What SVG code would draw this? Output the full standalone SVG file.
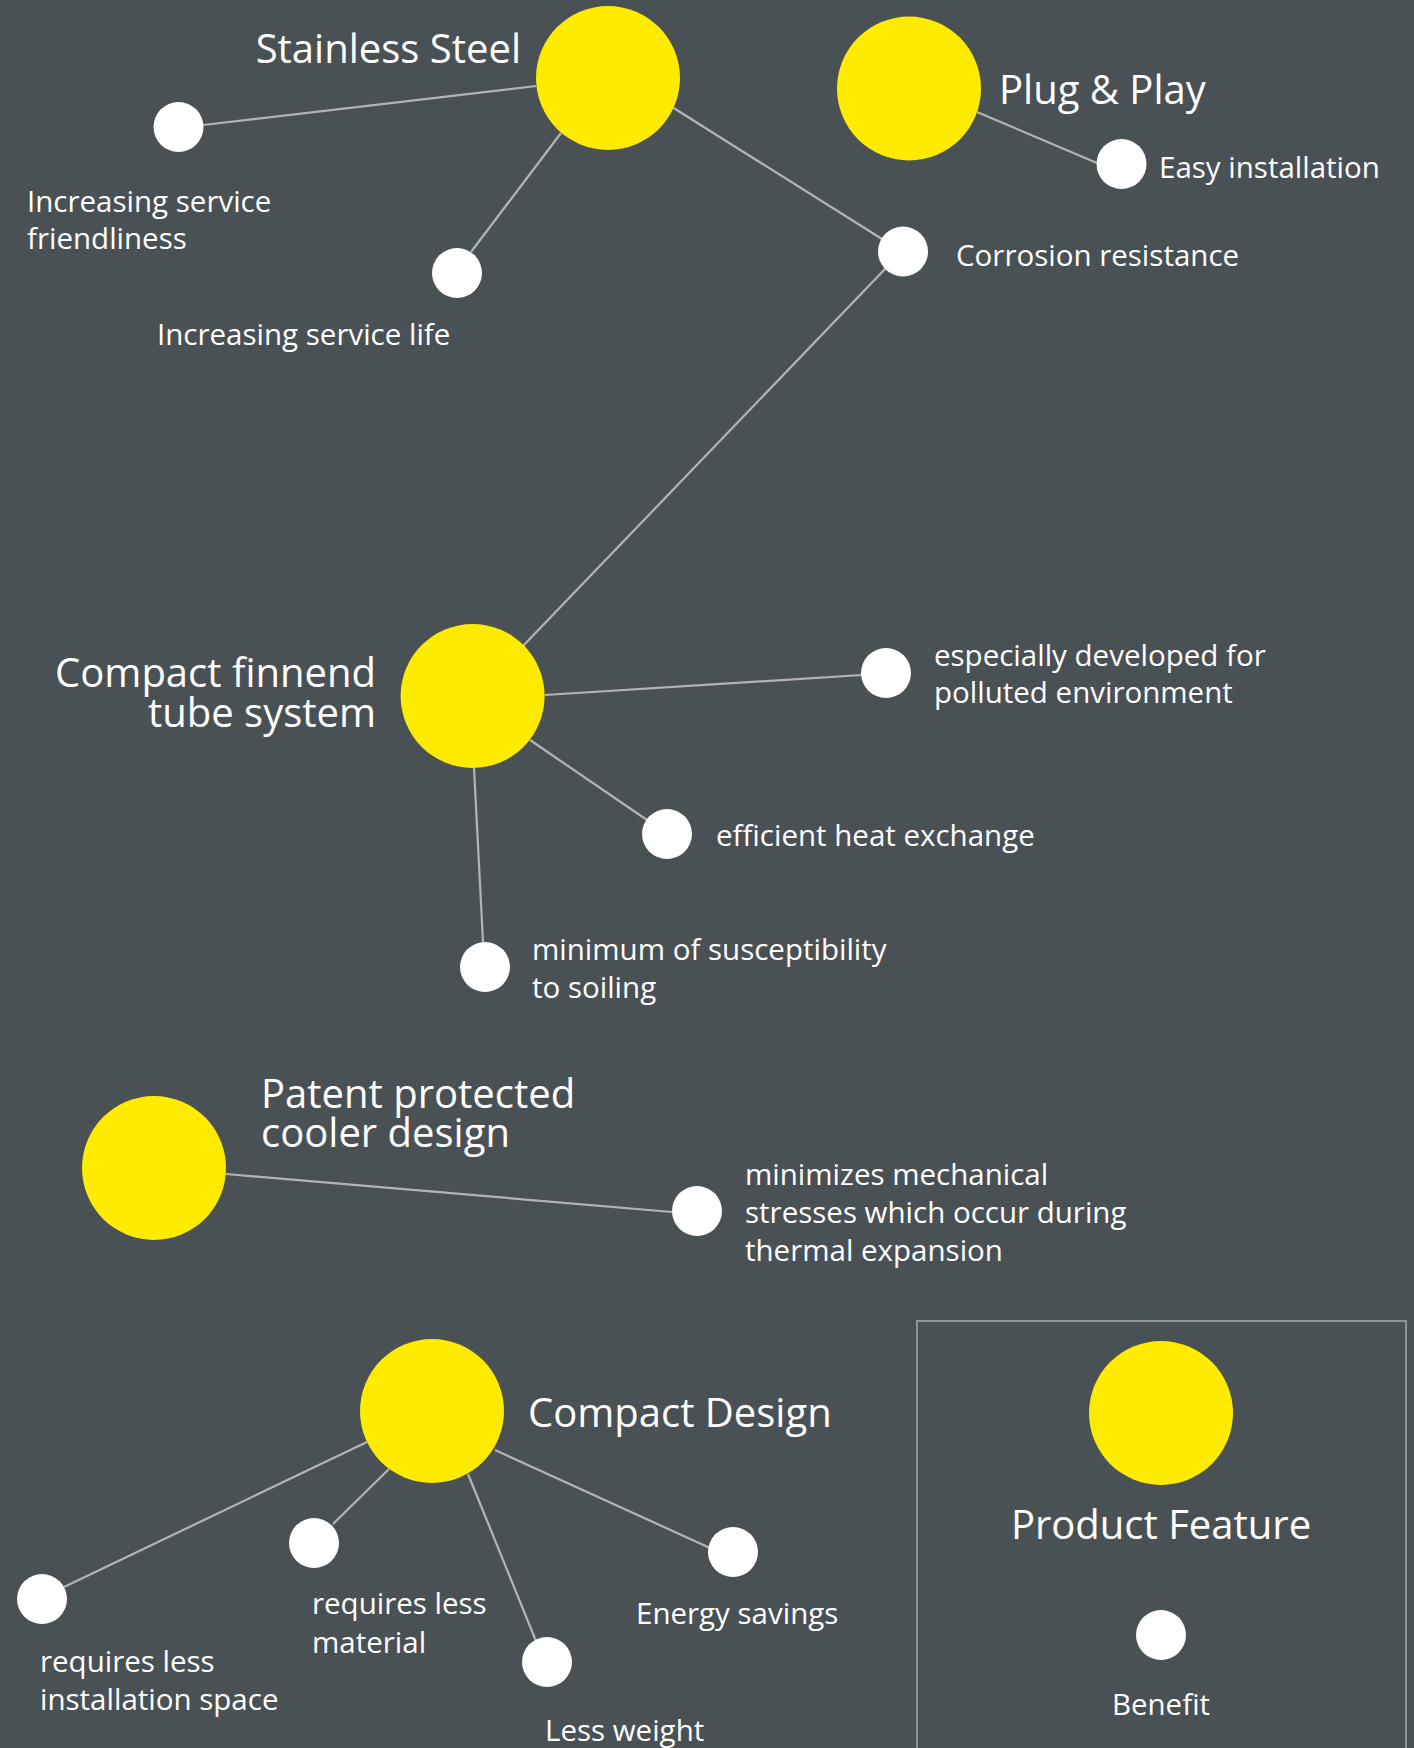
<svg xmlns="http://www.w3.org/2000/svg" width="1414" height="1748" viewBox="0 0 1414 1748">
<style>
.bg{fill:#4a5155}
.feat{fill:#ffeb00}
.ben{fill:#ffffff}
.conn line{stroke:#b4b4b4;stroke-width:2.2}
.t{font-family:"Open Sans","Liberation Sans",sans-serif;fill:#ffffff}
.title{font-size:40px}
.lbl{font-size:29.5px}
.legend{fill:none;stroke:#8c9496;stroke-width:2}
</style>
<rect class="bg" x="0" y="0" width="1414" height="1748"/>
<g id="connectors" class="conn">
<line x1="203" y1="125" x2="536" y2="86"/>
<line x1="471" y1="252" x2="561" y2="133"/>
<line x1="672" y1="107" x2="882" y2="239"/>
<line x1="977" y1="112" x2="1097" y2="163"/>
<line x1="886" y1="268" x2="522" y2="647"/>
<line x1="545" y1="695" x2="862" y2="675"/>
<line x1="530" y1="740" x2="647" y2="820"/>
<line x1="474" y1="768" x2="483" y2="942"/>
<line x1="226" y1="1174" x2="672" y2="1212"/>
<line x1="367" y1="1442" x2="64" y2="1587"/>
<line x1="389" y1="1469" x2="333" y2="1524"/>
<line x1="468" y1="1474" x2="536" y2="1641"/>
<line x1="495" y1="1450" x2="710" y2="1548"/>
</g>
<g id="stainless-steel">
<circle class="feat" cx="608" cy="78" r="72"/>
<text class="t title" x="521" y="63" text-anchor="end">Stainless Steel</text>
</g>
<g id="service-friendliness">
<circle class="ben" cx="178.5" cy="127" r="25"/>
<text class="t lbl" x="27" y="212">Increasing service</text>
<text class="t lbl" x="27" y="249">friendliness</text>
</g>
<g id="service-life">
<circle class="ben" cx="457" cy="273" r="25"/>
<text class="t lbl" x="157" y="345">Increasing service life</text>
</g>
<g id="plug-play">
<circle class="feat" cx="909" cy="88.5" r="72"/>
<text class="t title" x="999" y="104">Plug &amp; Play</text>
</g>
<g id="easy-installation">
<circle class="ben" cx="1121.5" cy="164" r="25"/>
<text class="t lbl" x="1159" y="178">Easy installation</text>
</g>
<g id="corrosion-resistance">
<circle class="ben" cx="903" cy="251.5" r="25"/>
<text class="t lbl" x="956" y="266">Corrosion resistance</text>
</g>
<g id="compact-finned">
<circle class="feat" cx="472.6" cy="696" r="72"/>
<text class="t title" x="376" y="687" text-anchor="end">Compact finnend</text>
<text class="t title" x="376" y="727" text-anchor="end">tube system</text>
</g>
<g id="polluted-environment">
<circle class="ben" cx="886" cy="673" r="25"/>
<text class="t lbl" x="934" y="666">especially developed for</text>
<text class="t lbl" x="934" y="703">polluted environment</text>
</g>
<g id="heat-exchange">
<circle class="ben" cx="667" cy="834" r="25"/>
<text class="t lbl" x="716" y="846">efficient heat exchange</text>
</g>
<g id="soiling">
<circle class="ben" cx="485" cy="967" r="25"/>
<text class="t lbl" x="532" y="960">minimum of susceptibility</text>
<text class="t lbl" x="532" y="998">to soiling</text>
</g>
<g id="patent-design">
<circle class="feat" cx="154" cy="1168" r="72"/>
<text class="t title" x="261" y="1108">Patent protected</text>
<text class="t title" x="261" y="1147">cooler design</text>
</g>
<g id="mechanical-stresses">
<circle class="ben" cx="697" cy="1211" r="25"/>
<text class="t lbl" x="745" y="1185">minimizes mechanical</text>
<text class="t lbl" x="745" y="1223">stresses which occur during</text>
<text class="t lbl" x="745" y="1261">thermal expansion</text>
</g>
<g id="compact-design">
<circle class="feat" cx="432" cy="1411" r="72"/>
<text class="t title" x="528" y="1427">Compact Design</text>
</g>
<g id="installation-space">
<circle class="ben" cx="42" cy="1599" r="25"/>
<text class="t lbl" x="40" y="1672">requires less</text>
<text class="t lbl" x="40" y="1710">installation space</text>
</g>
<g id="less-material">
<circle class="ben" cx="314" cy="1543" r="25"/>
<text class="t lbl" x="312" y="1614">requires less</text>
<text class="t lbl" x="312" y="1653">material</text>
</g>
<g id="less-weight">
<circle class="ben" cx="547" cy="1662" r="25"/>
<text class="t lbl" x="545" y="1741">Less weight</text>
</g>
<g id="energy-savings">
<circle class="ben" cx="733" cy="1552" r="25"/>
<text class="t lbl" x="636" y="1624">Energy savings</text>
</g>
<g id="legend">
<rect class="legend" x="917" y="1321" width="489" height="440"/>
<circle class="feat" cx="1161" cy="1413" r="72"/>
<text class="t title" x="1161" y="1539" text-anchor="middle">Product Feature</text>
<circle class="ben" cx="1161" cy="1635" r="25"/>
<text class="t lbl" x="1161" y="1715" text-anchor="middle">Benefit</text>
</g>
</svg>
